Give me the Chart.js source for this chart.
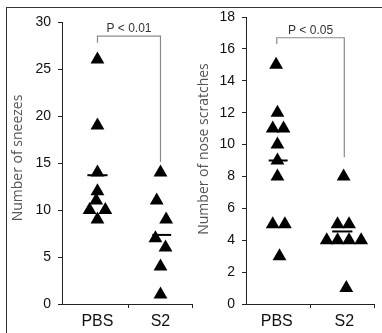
<!DOCTYPE html>
<html>
<head>
<meta charset="utf-8">
<script src="https://cdn.jsdelivr.net/npm/chart.js@4.4.1/dist/chart.umd.min.js"></script>
<style>
  body { margin: 0; background: #fff; }
  #wrap { position: relative; width: 382px; height: 333px; overflow: hidden; background: #fff; }
  #frame { position: absolute; left: 6px; top: 7px; width: 400px; height: 400px; border: 1.5px solid #333; }
  canvas { position: absolute; top: 0; }
</style>
</head>
<body>
<div id="wrap">
  <div id="frame"></div>
  <canvas id="sneezes" width="200" height="333" style="left:0"></canvas>
  <canvas id="scratches" width="192" height="333" style="left:190px"></canvas>
</div>
<script>
const groups = ['PBS', 'S2'];

// number of sneezes
const sneezePBS = [26, 19, 14, 12, 11, 10, 10, 9];
const sneezePBSJitter = [0, 0, 0, 0, -0.02, -0.125, 0.125, 0];
const sneezeS2 = [14, 11, 9, 7, 6, 4, 1];
const sneezeS2Jitter = [0, -0.06, 0.09, -0.08, 0.08, 0, 0];
const sneezeMeans = [13.7, 7.35];
const sneezeTicks = [0, 5, 10, 15, 20, 25, 30];

// number of nose scratches
const scratchPBS = [15, 12, 11, 11, 10, 9, 8, 5, 5, 3];
const scratchPBSJitter = [-0.01, 0.01, -0.06, 0.1, 0.01, 0.01, 0.01, -0.06, 0.12, 0.04];
const scratchS2 = [8, 5, 5, 4, 4, 4, 4, 1];
const scratchS2Jitter = [-0.01, -0.1, 0.07, -0.26, -0.1, 0.07, 0.25, 0.03];
const scratchMeans = [9.0, 4.55];
const scratchTicks = [0, 2, 4, 6, 8, 10, 12, 14, 16, 18];

const pLabels = ['P < 0.01', 'P < 0.05'];

const toPoints = (vals, jit, g) => vals.map((v, i) => ({ x: g + jit[i], y: v }));

const bracketPlugin = {
  id: 'brackets',
  afterDraw(chart, args, o) {
    const { ctx, scales: { x, y } } = chart;
    const x1 = x.getPixelForValue(1), x2 = x.getPixelForValue(2);
    const yt = y.getPixelForValue(o.top);
    ctx.save();
    ctx.strokeStyle = '#8a8a8a';
    ctx.lineWidth = 1.2;
    ctx.beginPath();
    ctx.moveTo(x1, y.getPixelForValue(o.leftEnd));
    ctx.lineTo(x1, yt);
    ctx.lineTo(x2, yt);
    ctx.lineTo(x2, y.getPixelForValue(o.rightEnd));
    ctx.stroke();
    ctx.fillStyle = '#333';
    ctx.font = '12px "Liberation Sans", Arial, sans-serif';
    ctx.textAlign = 'center';
    ctx.textBaseline = 'alphabetic';
    ctx.fillText(o.label, x.getPixelForValue(1.5), yt - 4);
    // axis title
    ctx.translate(o.titleX, o.titleY);
    ctx.rotate(-Math.PI / 2);
    ctx.fillStyle = '#555';
    ctx.font = '14px "Open Sans", sans-serif';
    ctx.textBaseline = 'middle';
    ctx.fillText(o.title, 0, 0);
    ctx.restore();
  }
};

function makeChart(id, pbs, pbsJit, s2, s2Jit, means, yTicks, xMin, xMax, yWidth, padRight, padTop, bars, bracket) {
  const yMax = yTicks[yTicks.length - 1];
  const meanLine = (g, m, bar) => ({
    type: 'line',
    data: [{ x: g + bar[0] - bar[1], y: m }, { x: g + bar[0] + bar[1], y: m }],
    borderColor: '#000',
    borderWidth: 2,
    pointRadius: 0,
    order: 0
  });
  return new Chart(document.getElementById(id), {
    type: 'scatter',
    data: {
      datasets: [
        { data: toPoints(pbs, pbsJit, 1), pointStyle: 'triangle', pointRadius: 8, backgroundColor: '#000', borderWidth: 0, order: 1 },
        { data: toPoints(s2, s2Jit, 2), pointStyle: 'triangle', pointRadius: 8, backgroundColor: '#000', borderWidth: 0, order: 1 },
        meanLine(1, means[0], bars[0]),
        meanLine(2, means[1], bars[1])
      ]
    },
    options: {
      responsive: false,
      animation: false,
      devicePixelRatio: 1,
      layout: { padding: { left: 0, right: padRight, top: padTop, bottom: 0 } },
      plugins: { legend: { display: false }, tooltip: { enabled: false }, brackets: bracket },
      scales: {
        x: {
          type: 'linear',
          min: xMin,
          max: xMax,
          afterBuildTicks: s => { s.ticks = [xMin, 1, 1.5, 2, xMax].map(v => ({ value: v })); },
          afterFit: s => { s.height = 29; },
          border: { color: '#222', width: 1 },
          grid: {
            drawOnChartArea: false,
            tickLength: 4,
            color: c => (c.tick && (c.tick.value === 1 || c.tick.value === 2 || c.tick.value === xMin)) ? 'rgba(0,0,0,0)' : '#222'
          },
          ticks: {
            autoSkip: false,
            maxRotation: 0,
            padding: 4,
            color: '#111',
            font: { family: '"Liberation Sans", Arial, sans-serif', size: 16 },
            callback: v => v === 1 ? groups[0] : v === 2 ? groups[1] : ''
          }
        },
        y: {
          min: 0,
          max: yMax,
          afterBuildTicks: s => { s.ticks = yTicks.map(v => ({ value: v })); },
          afterFit: s => { s.width = yWidth; },
          border: { color: '#222', width: 1 },
          grid: { drawOnChartArea: false, tickLength: 4, color: '#222' },
          ticks: {
            padding: 7,
            color: '#111',
            font: { family: '"Liberation Sans", Arial, sans-serif', size: 14 }
          }
        }
      }
    },
    plugins: [bracketPlugin]
  });
}

makeChart('sneezes', sneezePBS, sneezePBSJitter, sneezeS2, sneezeS2Jitter, sneezeMeans, sneezeTicks,
  0.4375, 2.5, 62, 6, 22, [[0, 0.16], [0.02, 0.15]],
  { top: 28.5, leftEnd: 27.8, rightEnd: 15.1, label: pLabels[0], title: 'Number of sneezes', titleX: 18, titleY: 158 });

makeChart('scratches', scratchPBS, scratchPBSJitter, scratchS2, scratchS2Jitter, scratchMeans, scratchTicks,
  0.544, 2.44, 56, 7, 17, [[0.02, 0.14], [-0.03, 0.15]],
  { top: 16.7, leftEnd: 16.3, rightEnd: 9.2, label: pLabels[1], title: 'Number of nose scratches', titleX: 14, titleY: 149 });
</script>
</body>
</html>
